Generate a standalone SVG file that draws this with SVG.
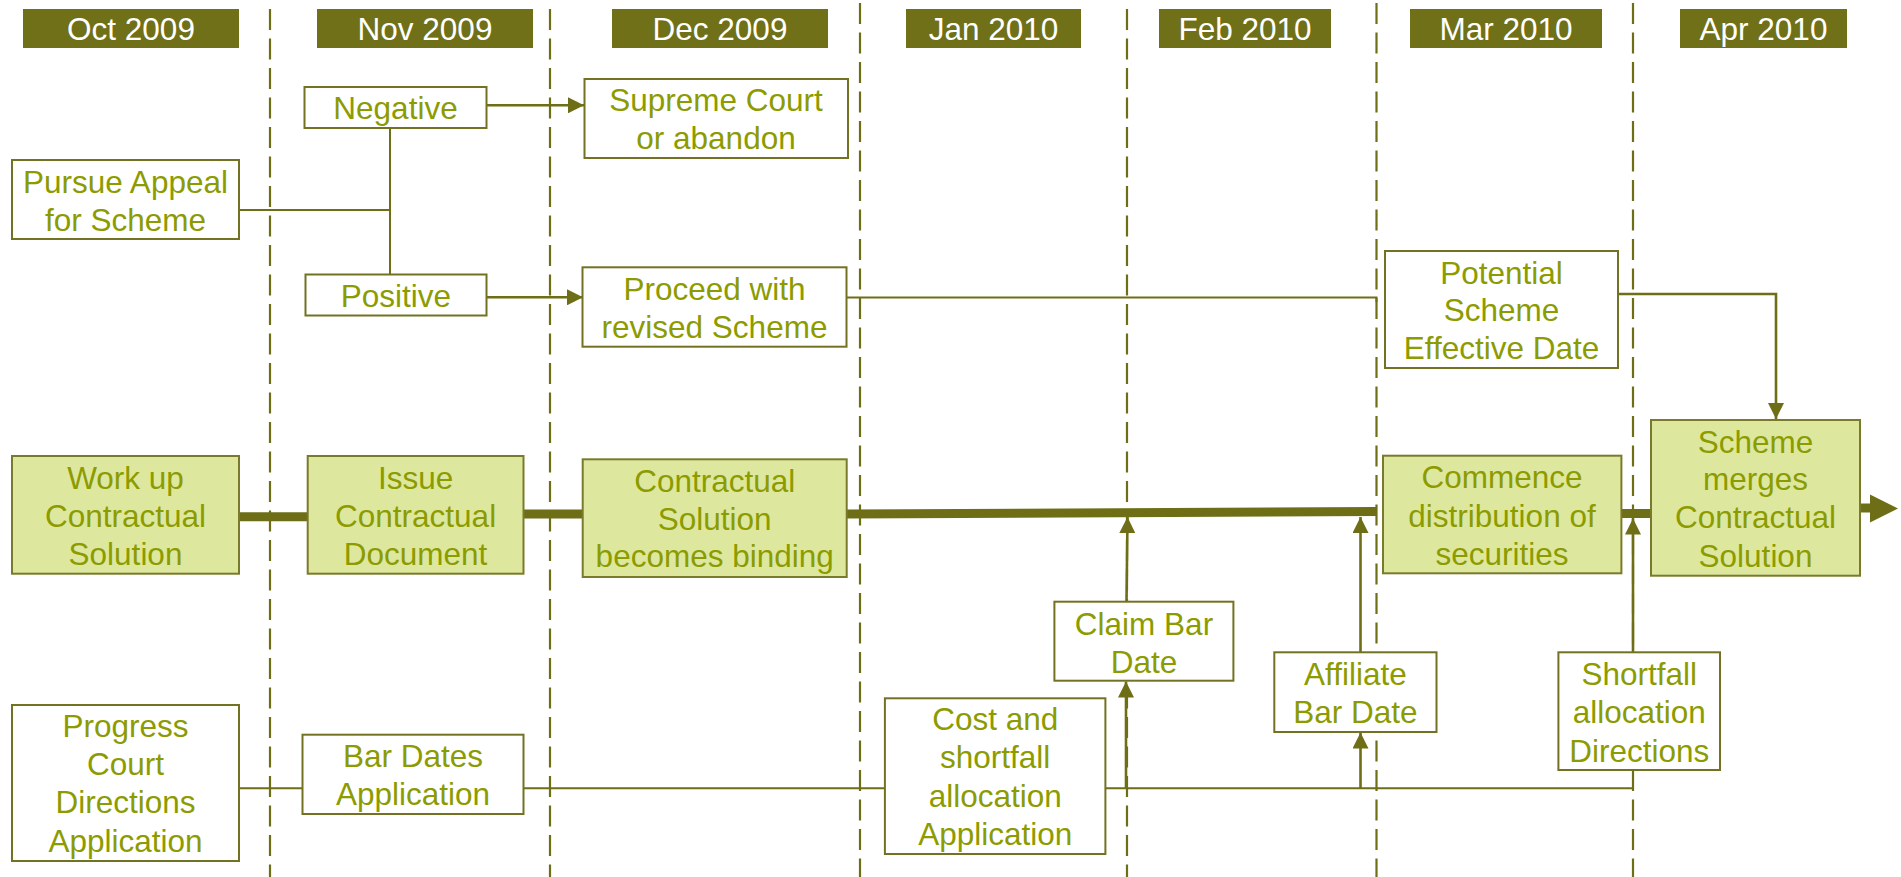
<svg xmlns="http://www.w3.org/2000/svg" width="1901" height="877" viewBox="0 0 1901 877">
<style>
.hdr rect{fill:#6F7018}
.hdr text{fill:#FFFFFF;font-family:"Liberation Sans",Arial,sans-serif;font-size:31.5px;text-anchor:middle}
.dash{stroke:#6E6E16;stroke-width:2.2;stroke-dasharray:21 8.5;fill:none}
.box{fill:#FFFFFF;stroke:#727222;stroke-width:2}
.gbox{fill:#DDE89E;stroke:#7A7A2C;stroke-width:2}
.lbl{fill:#8C9B00;font-family:"Liberation Sans",Arial,sans-serif;font-size:31.5px;text-anchor:middle}
.thin{stroke:#6E6E16;stroke-width:2;fill:none}
.arr{stroke:#6E6E16;stroke-width:2.6;fill:none}
.thick{stroke:#6E6E16;stroke-width:9;fill:none}
.head{fill:#6E6E16}
</style>
<defs>
<marker id="ah" markerUnits="userSpaceOnUse" viewBox="0 0 16 16" refX="16" refY="8" markerWidth="16" markerHeight="16" orient="auto">
<path d="M0,0 L16,8 L0,16 z" fill="#6E6E16"/>
</marker>
</defs>

<g id="headers">
<g id="h-oct" class="hdr"><rect x="23" y="9" width="216" height="39"/><text x="131" y="40">Oct 2009</text></g>
<g id="h-nov" class="hdr"><rect x="317" y="9" width="216" height="39"/><text x="425" y="40">Nov 2009</text></g>
<g id="h-dec" class="hdr"><rect x="612" y="9" width="216" height="39"/><text x="720" y="40">Dec 2009</text></g>
<g id="h-jan" class="hdr"><rect x="906" y="9" width="175" height="39"/><text x="993.5" y="40">Jan 2010</text></g>
<g id="h-feb" class="hdr"><rect x="1159" y="9" width="172" height="39"/><text x="1245" y="40">Feb 2010</text></g>
<g id="h-mar" class="hdr"><rect x="1410" y="9" width="192" height="39"/><text x="1506" y="40">Mar 2010</text></g>
<g id="h-apr" class="hdr"><rect x="1680" y="9" width="167" height="39"/><text x="1763.5" y="40">Apr 2010</text></g>
</g>

<g id="month-dividers">
<line class="dash" x1="270" y1="9" x2="270" y2="877"/>
<line class="dash" x1="550" y1="9" x2="550" y2="877"/>
<line class="dash" x1="860" y1="3" x2="860" y2="877"/>
<line class="dash" x1="1127" y1="9" x2="1127" y2="877"/>
<line class="dash" x1="1376.5" y1="3" x2="1376.5" y2="877"/>
<line class="dash" x1="1633" y1="3" x2="1633" y2="877"/>
</g>

<g id="connectors">
<polyline class="thin" points="239,210 390,210"/>
<line class="thin" x1="390" y1="128" x2="390" y2="274.5"/>
<line class="arr" x1="486.5" y1="105.3" x2="584" y2="105.3" marker-end="url(#ah)"/>
<line class="arr" x1="486.5" y1="297.3" x2="583" y2="297.3" marker-end="url(#ah)"/>
<polyline class="thin" points="846.5,297.5 1376.5,297.5 1376.5,302"/>
<polyline class="arr" points="1618,294 1776,294 1776,419" marker-end="url(#ah)"/>
<line class="thick" x1="239" y1="516.7" x2="308" y2="516.7"/>
<line class="thick" x1="523.5" y1="514" x2="586" y2="514"/>
<line class="thick" x1="846.7" y1="514" x2="1377" y2="511.5"/>
<line class="thick" x1="1621" y1="513.5" x2="1651" y2="513.5"/>
<line class="thick" x1="1859" y1="508" x2="1872" y2="508"/>
<polygon class="head" points="1870,494.5 1898,508.5 1870,522.5"/>
<line class="arr" x1="1126.5" y1="601.7" x2="1127.5" y2="517" marker-end="url(#ah)"/>
<line class="arr" x1="1126" y1="788.3" x2="1126" y2="681.5" marker-end="url(#ah)"/>
<line class="arr" x1="1360.5" y1="652.3" x2="1360.5" y2="517" marker-end="url(#ah)"/>
<line class="arr" x1="1360.5" y1="788.3" x2="1360.5" y2="732.5" marker-end="url(#ah)"/>
<line class="arr" x1="1633" y1="652.3" x2="1633" y2="518.5" marker-end="url(#ah)"/>
<line class="thin" x1="239" y1="788.3" x2="302.5" y2="788.3"/>
<line class="thin" x1="523.5" y1="788.3" x2="885" y2="788.3"/>
<polyline class="thin" points="1105,788.3 1633,788.3 1633,770"/>
</g>

<g id="n-pursue"><rect class="box" x="12" y="160" width="227" height="79"/>
<text class="lbl" x="125.5"><tspan x="125.5" y="193">Pursue Appeal</tspan><tspan x="125.5" y="230.5">for Scheme</tspan></text></g>

<g id="n-negative"><rect class="box" x="304.5" y="87" width="182" height="41"/>
<text class="lbl" x="395.5" y="119">Negative</text></g>

<g id="n-positive"><rect class="box" x="305.5" y="274.5" width="181" height="41"/>
<text class="lbl" x="396" y="306.5">Positive</text></g>

<g id="n-supreme"><rect class="box" x="584.5" y="79" width="263.5" height="79"/>
<text class="lbl"><tspan x="716" y="111">Supreme Court</tspan><tspan x="716" y="149">or abandon</tspan></text></g>

<g id="n-proceed"><rect class="box" x="582.5" y="267.3" width="264" height="79.4"/>
<text class="lbl"><tspan x="714.5" y="299.5">Proceed with</tspan><tspan x="714.5" y="338">revised Scheme</tspan></text></g>

<g id="n-potential"><rect class="box" x="1385" y="251" width="233" height="117"/>
<text class="lbl"><tspan x="1501.5" y="283.5">Potential</tspan><tspan x="1501.5" y="321">Scheme</tspan><tspan x="1501.5" y="359">Effective Date</tspan></text></g>

<g id="n-workup"><rect class="gbox" x="12" y="456" width="227" height="117.7"/>
<text class="lbl"><tspan x="125.5" y="489.3">Work up</tspan><tspan x="125.5" y="526.7">Contractual</tspan><tspan x="125.5" y="564.7">Solution</tspan></text></g>

<g id="n-issue"><rect class="gbox" x="307.7" y="456" width="215.8" height="117.7"/>
<text class="lbl"><tspan x="415.6" y="489.3">Issue</tspan><tspan x="415.6" y="526.7">Contractual</tspan><tspan x="415.6" y="564.7">Document</tspan></text></g>

<g id="n-binding"><rect class="gbox" x="582.7" y="459.3" width="264" height="117.7"/>
<text class="lbl"><tspan x="714.7" y="492">Contractual</tspan><tspan x="714.7" y="529.5">Solution</tspan><tspan x="714.7" y="566.7">becomes binding</tspan></text></g>

<g id="n-commence"><rect class="gbox" x="1383" y="455.7" width="238.4" height="117.6"/>
<text class="lbl"><tspan x="1502" y="488.3">Commence</tspan><tspan x="1502" y="526.7">distribution of</tspan><tspan x="1502" y="564.7">securities</tspan></text></g>

<g id="n-merges"><rect class="gbox" x="1651" y="420" width="209" height="155.7"/>
<text class="lbl"><tspan x="1755.5" y="452.7">Scheme</tspan><tspan x="1755.5" y="490">merges</tspan><tspan x="1755.5" y="528.3">Contractual</tspan><tspan x="1755.5" y="566.7">Solution</tspan></text></g>

<g id="n-claim"><rect class="box" x="1054.4" y="601.7" width="179" height="79"/>
<text class="lbl"><tspan x="1144" y="635">Claim Bar</tspan><tspan x="1144" y="672.7">Date</tspan></text></g>

<g id="n-affiliate"><rect class="box" x="1274.3" y="652.3" width="162.2" height="79.7"/>
<text class="lbl"><tspan x="1355.4" y="685">Affiliate</tspan><tspan x="1355.4" y="723.3">Bar Date</tspan></text></g>

<g id="n-shortfall"><rect class="box" x="1558.4" y="652.3" width="161.6" height="117.7"/>
<text class="lbl"><tspan x="1639.2" y="685">Shortfall</tspan><tspan x="1639.2" y="723.3">allocation</tspan><tspan x="1639.2" y="761.7">Directions</tspan></text></g>

<g id="n-cost"><rect class="box" x="884.9" y="698.3" width="220.5" height="155.7"/>
<text class="lbl"><tspan x="995.2" y="730">Cost and</tspan><tspan x="995.2" y="768.3">shortfall</tspan><tspan x="995.2" y="806.7">allocation</tspan><tspan x="995.2" y="845">Application</tspan></text></g>

<g id="n-progress"><rect class="box" x="12" y="705" width="227" height="156"/>
<text class="lbl"><tspan x="125.5" y="737.3">Progress</tspan><tspan x="125.5" y="775">Court</tspan><tspan x="125.5" y="813.3">Directions</tspan><tspan x="125.5" y="851.7">Application</tspan></text></g>

<g id="n-bardates"><rect class="box" x="302.5" y="734.7" width="221" height="79.3"/>
<text class="lbl"><tspan x="413" y="766.7">Bar Dates</tspan><tspan x="413" y="805">Application</tspan></text></g>
</svg>
